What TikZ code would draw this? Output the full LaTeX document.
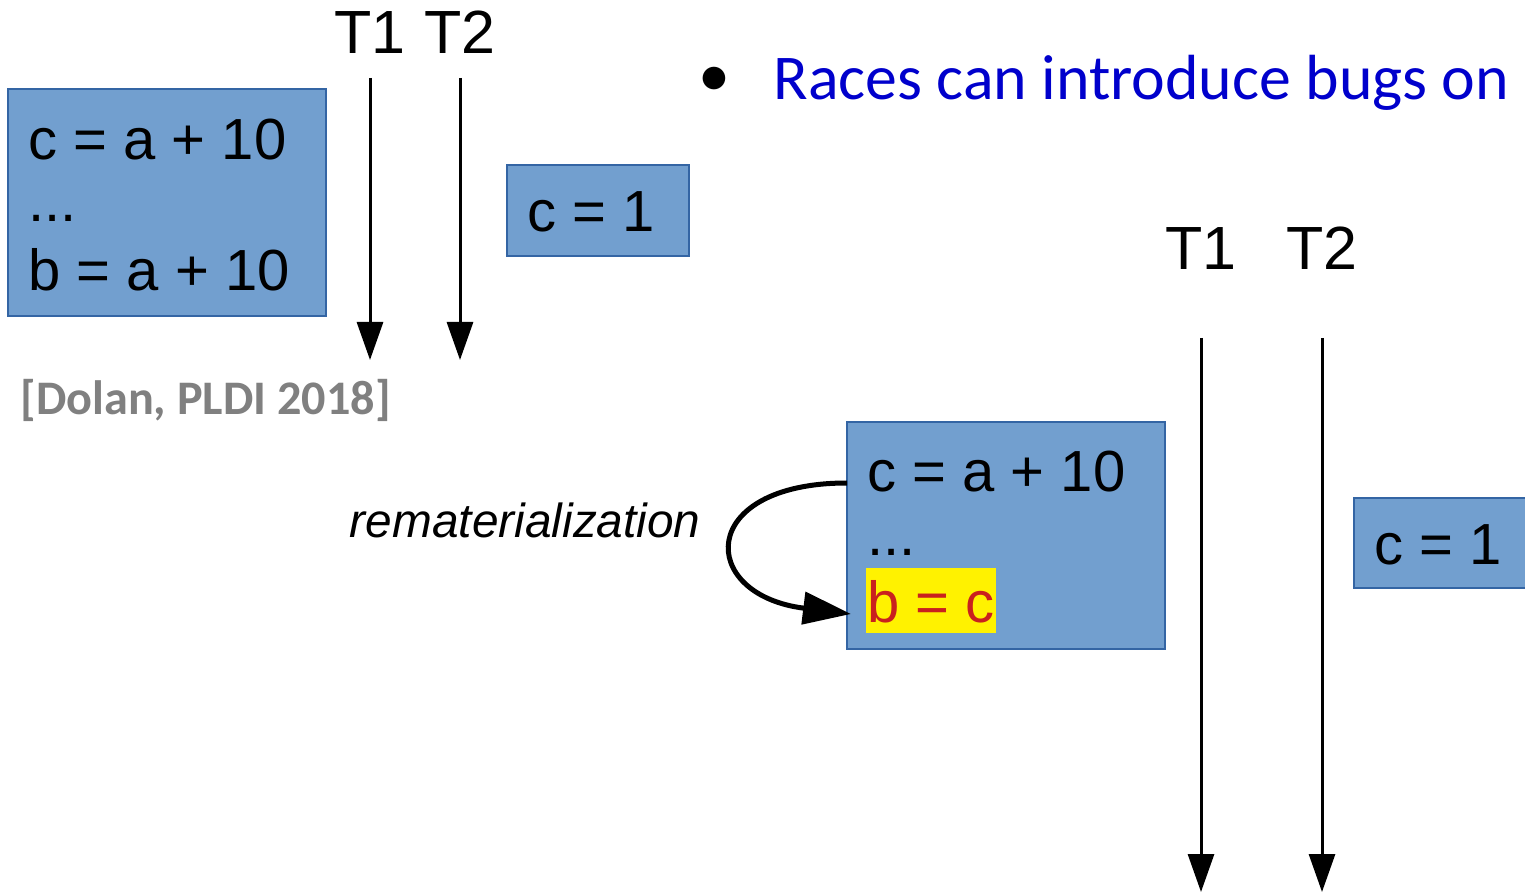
\documentclass[tikz,border=0pt]{standalone}
\usepackage{fontspec}
\setmainfont{Liberation Sans}
\newfontfamily\calfont{Carlito}
\usetikzlibrary{arrows.meta,positioning,fit}
\definecolor{boxfill}{RGB}{114,159,207}
\definecolor{boxline}{RGB}{52,101,164}
\definecolor{bulletblue}{RGB}{0,0,204}
\definecolor{citegray}{RGB}{128,128,128}
\definecolor{hlyellow}{RGB}{255,242,0}
\definecolor{codered}{RGB}{201,33,30}

\begin{document}
\begin{tikzpicture}[
  x=0.5pt, y=-0.5pt,
  codebox/.style={draw=boxline,fill=boxfill,line width=0.6pt,inner sep=0pt},
  codetext/.style={anchor=base west,inner sep=0pt,
                   font=\fontsize{29}{35}\selectfont},
  threadlbl/.style={anchor=base,inner sep=0pt,
                    font=\fontsize{30.5}{36}\selectfont},
  thread/.style={-{Triangle[length=19pt,width=13pt]},line width=1.5pt},
  remarr/.style={-{Triangle[length=24pt,width=16pt]},line width=2.5pt},
]
  \useasboundingbox (0,0) rectangle (1525,892);

  % Original program
  \node[codebox,fit={(8,89) (326,316)}] (orig) {};
  \node[codetext] (oc) at (28,160) {c = a + 10};
  \node[codetext] (od) at (28,222) {...};
  \node[codetext] (ob) at (28,291) {b = a + 10};
  \node[codebox,fit={(507,165) (689,256)}] (wr1) {};
  \node[codetext] (wc1) at (527,232) {c = 1};

  % Threads (top)
  \node[threadlbl] (lt1) at (370,54) {T1};
  \node[threadlbl] (lt2) at (460,54) {T2};
  \coordinate (t1a) at (370,78);
  \coordinate (t1b) at (370,360);
  \coordinate (t2a) at (460,78);
  \coordinate (t2b) at (460,360);
  \draw[thread] (t1a) -- (t1b);
  \draw[thread] (t2a) -- (t2b);

  \node[anchor=base west,inner sep=0pt,text=citegray,
        font=\calfont\bfseries\fontsize{24.1}{29}\selectfont] (cite) at (20,415)
    {[Dolan, PLDI 2018]};

  % Bullet
  \node[anchor=center,inner sep=0pt,
        font=\calfont\fontsize{32}{40}\selectfont] (bullet) at (714,82) {\textbullet};
  \node[anchor=base west,inner sep=0pt,text=bulletblue,
        font=\calfont\fontsize{31.9}{40}\selectfont] (races) at (773,100)
    {Races can introduce bugs on};

  % Transformed program
  \node[codebox,fit={(847,422) (1165,649)}] (trans) {};
  \node[codetext] (tc) at (867,492) {c = a + 10};
  \node[codetext] (td) at (867,555) {...};
  \node[codetext,fill=hlyellow,text=codered,inner xsep=0.5pt,
        text height=27pt,text depth=5.5pt] (tb) at (866,622) {b = c};
  \node[codebox,fit={(1354,498) (1530,588)}] (wr2) {};
  \node[codetext] (wc2) at (1374,565) {c = 1};

  % Threads (bottom)
  \node[threadlbl] (lb1) at (1201,270) {T1};
  \node[threadlbl] (lb2) at (1322,270) {T2};
  \coordinate (b1a) at (1201,338);
  \coordinate (b1b) at (1201,892);
  \coordinate (b2a) at (1322,338);
  \coordinate (b2b) at (1322,892);
  \draw[thread] (b1a) -- (b1b);
  \draw[thread] (b2a) -- (b2b);

  % Rematerialization
  \coordinate (rems) at (847,483);
  \coordinate (reme) at (851,614);
  \draw[remarr] (rems) .. controls (696,483) and (697,595) .. (reme);
  \node[anchor=base east,inner sep=0pt,
        font=\itshape\fontsize{23.9}{29}\selectfont] (rem) at (701,538)
    {rematerialization};
\end{tikzpicture}
\end{document}
